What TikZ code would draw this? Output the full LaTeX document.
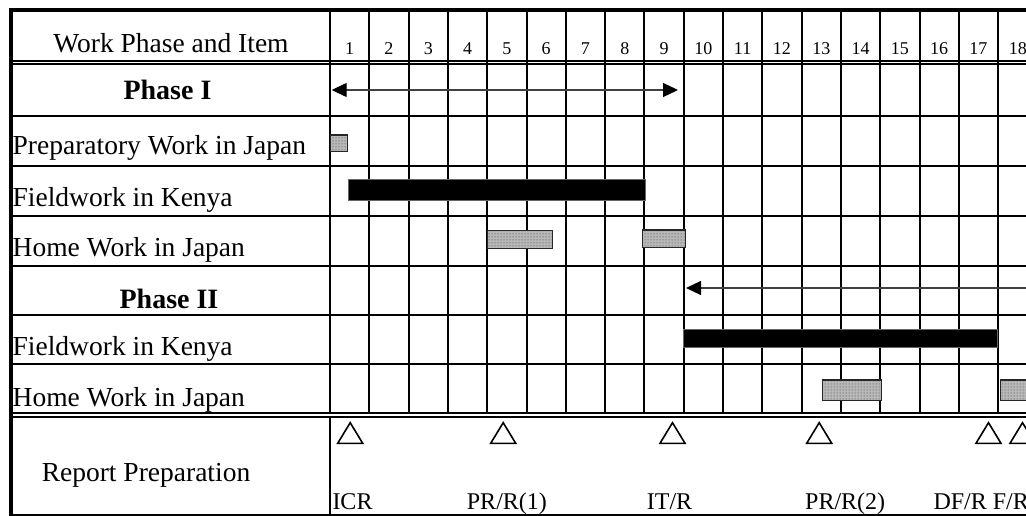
\documentclass[tikz,border=0pt]{standalone}
\usepackage{fontspec}
\setmainfont{Liberation Serif}
\usetikzlibrary{arrows.meta, patterns, positioning}
\tikzset{
  gridline/.style={line width=2pt},
  border/.style={line width=4pt},
  doubleline/.style={line width=1.8pt},
  itemlabel/.style={anchor=base west, inner sep=0pt, font=\fontsize{27.5}{30}\selectfont},
  headlabel/.style={anchor=base, inner sep=0pt, font=\fontsize{27.5}{30}\selectfont},
  phaselabel/.style={anchor=base, inner sep=0pt, font=\fontsize{28}{30}\selectfont\bfseries},
  monthlabel/.style={anchor=base, inner sep=0pt, font=\fontsize{18}{20}\selectfont},
  reportlabel/.style={anchor=base west, inner sep=0pt, font=\fontsize{24}{26}\selectfont},
  fieldbar/.style={fill=black, draw=black!60, line width=1pt},
  homebar/.style={draw=black!85, line width=1.4pt, fill=black!28, postaction={pattern=dots, pattern color=black!80}},
  span/.style={line width=1.3pt, draw=black!75},
  milestone/.style={line width=1.6pt, line join=miter}
}

\begin{document}
\begin{tikzpicture}[x=1pt, y=-1pt]
    \clip (0,0) rectangle (1026,516);

    % Rejilla de meses
    \foreach \i in {0,...,18} {
        \draw[gridline] ({330+39.3*\i}, 10) -- ({330+39.3*\i}, 413.3);
    }
    \foreach \y in {116,166,216,266,315,364} {
        \draw[gridline] (10,\y) -- (1040,\y);
    }

    % Lineas dobles
    \draw[doubleline] (10,61) -- (1040,61);
    \draw[doubleline] (10,64.3) -- (1040,64.3);
    \draw[doubleline] (10,413.3) -- (1040,413.3);
    \draw[doubleline] (10,417) -- (1040,417);

    % Fila de informes
    \draw[gridline] (330,417) -- (330,515);
    \draw[line width=1.5pt] (10,515) -- (1040,515);

    % Borde exterior
    \draw[border] (10.5,516) -- (10.5,10.3) -- (1040,10.3);

    % Encabezado
    \node[headlabel] (head) at (171,53) {Work Phase and Item};
    \foreach \n in {1,...,18} {
        \node[monthlabel] (m\n) at ({330+39.3*(\n-0.5)}, 55) {\n};
    }

    % Columna de actividades
    \node[phaselabel] (phaseI) at (167.5,100) {Phase I};
    \node[itemlabel] (prep) at (12.5,155) {Preparatory Work in Japan};
    \node[itemlabel] (fieldI) at (12.5,206.7) {Fieldwork in Kenya};
    \node[itemlabel] (homeI) at (12.5,256.7) {Home Work in Japan};
    \node[phaselabel] (phaseII) at (169,308) {Phase II};
    \node[itemlabel] (fieldII) at (12.5,355) {Fieldwork in Kenya};
    \node[itemlabel] (homeII) at (12.5,406.7) {Home Work in Japan};
    \node[headlabel] (report) at (146,481.7) {Report Preparation};

    % --- BARRAS ---
    \draw[homebar] (330.7,135) rectangle (347.7,151.7);
    \draw[fieldbar] (348.3,180) rectangle (645,201);
    \draw[homebar] (487.7,230.7) rectangle (552.3,248.3);
    \draw[homebar] (642.3,230) rectangle (685.7,247.3);
    \draw[fieldbar] (683.3,329.3) rectangle (997.3,347.3);
    \draw[homebar] (822.7,380) rectangle (881.7,400.7);
    \draw[homebar] (1000.7,380) rectangle (1040,400.7);

    % --- DURACION DE CADA FASE ---
    \coordinate (PIa) at (331.7,90);
    \coordinate (PIb) at (678,90);
    \coordinate (PIIa) at (686,288);
    \coordinate (PIIb) at (1040,288);
    \draw[span, {Triangle[length=15pt,width=14pt,black]}-{Triangle[length=15pt,width=14pt,black]}] (PIa) -- (PIb);
    \draw[span, {Triangle[length=15pt,width=14pt,black]}-] (PIIa) -- (PIIb);

    % --- ENTREGA DE INFORMES ---
    \foreach \cx in {350.2, 503.2, 672.5, 819.2, 988.5, 1022.5} {
        \draw[milestone] (\cx-12.5,443.3) -- (\cx,422.7) -- (\cx+12.5,443.3) -- cycle;
    }
    \node[reportlabel] (icr) at (332.3,509) {ICR};
    \node[reportlabel] (prI) at (466.7,509) {PR/R(1)};
    \node[reportlabel] (itr) at (646.7,509) {IT/R};
    \node[reportlabel] (prII) at (805,509) {PR/R(2)};
    \node[reportlabel] (dfr) at (933.3,509) {DF/R F/R};

\end{tikzpicture}
\end{document}
